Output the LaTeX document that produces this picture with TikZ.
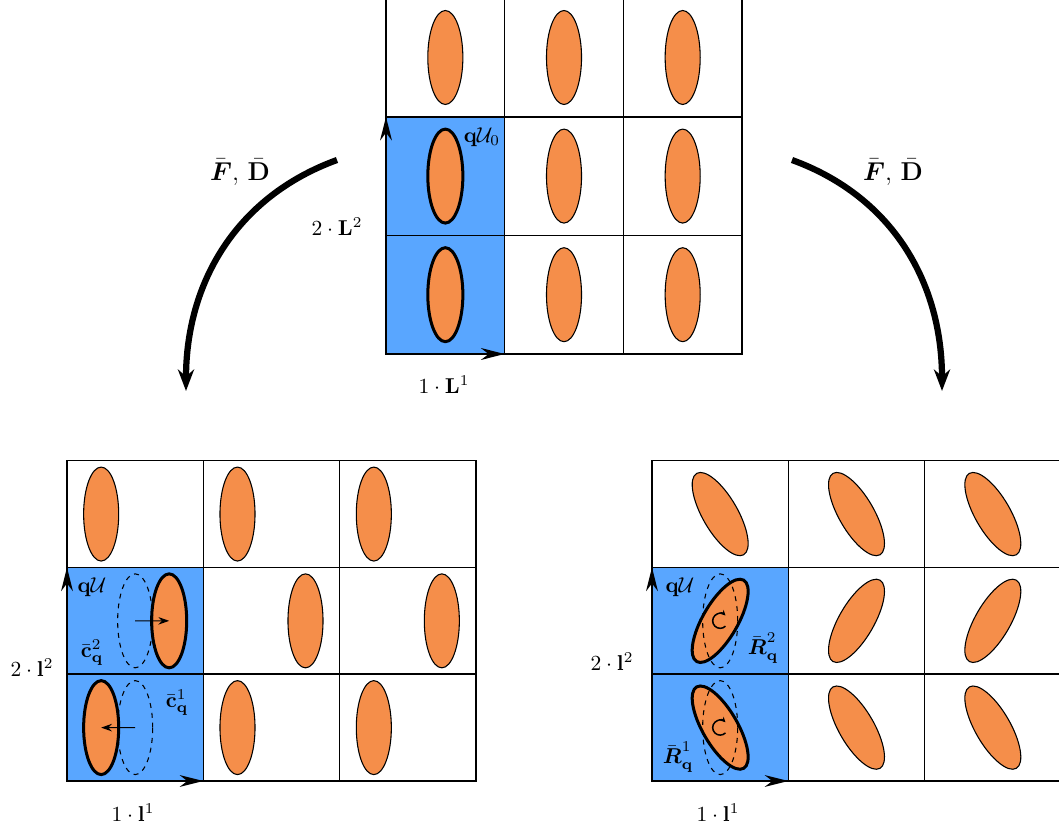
\documentclass[tikz,border=0pt]{standalone}
\usepackage{amsmath}
\usepackage{tikz}
\usetikzlibrary{arrows.meta,positioning,shapes.geometric}
\definecolor{cellblue}{RGB}{89,166,255}
\definecolor{ellorange}{RGB}{245,142,74}

\begin{document}
\begin{tikzpicture}[
  x=0.465pt, y=0.465pt,
  ell/.style={ellipse, draw, line width=0.5pt, fill=ellorange, minimum width=16.3pt, minimum height=43.7pt, inner sep=0pt},
  cellell/.style={ell, line width=1.4pt},
  ghost/.style={ellipse, draw, dash pattern=on 2.3pt off 2.3pt, line width=0.5pt, minimum width=16.3pt, minimum height=43.7pt, inner sep=0pt},
  cellline/.style={line width=0.7pt},
  axis/.style={line width=1pt, -{Stealth[length=11pt, width=5.5pt]}},
  shiftarr/.style={line width=0.5pt, -{Stealth[length=5pt, width=3.5pt]}},
  spin/.style={line width=0.7pt, -{Stealth[length=2.5pt, width=2.5pt]}},
  mapping/.style={line width=2.9pt, -{Stealth[length=10pt, width=7.5pt]}},
  lab/.style={inner sep=1pt}
]
\useasboundingbox (0,0) rectangle (1059,828);
\clip (0,0) rectangle (1059,828);

% reference configuration
\begin{scope}[shift={(386,474)}]
  \fill[cellblue] (0,0) rectangle (118.67,237.2);
  \foreach \i in {0,1,2}
    \foreach \j in {0,1,2}
      \draw[cellline] (\i*118.67,\j*118.6) rectangle ++(118.67,118.6);
  \foreach \i/\j/\s in {0/0/cellell, 0/1/cellell, 0/2/ell, 1/0/ell, 1/1/ell, 1/2/ell, 2/0/ell, 2/1/ell, 2/2/ell}
    \node[\s] (top-\i\j) at ({(\i+0.5)*118.67},{(\j+0.5)*118.6}) {};
  \coordinate (top-o) at (0,0);
  \coordinate (top-v) at (0,237.2);
  \coordinate (top-h) at (118.67,0);
  \draw[axis] (top-o) -- (top-v);
  \draw[axis] (top-o) -- (top-h);
\end{scope}
\node[lab] (top-cell) at (482,691) {$\mathbf{q}\mathcal{U}_0$};
\node[lab] (top-L2) at (337,601) {$2\cdot\mathbf{L}^2$};
\node[lab] (top-L1) at (444,443) {$1\cdot\mathbf{L}^1$};

% shifted configuration
\begin{scope}[shift={(67,47)}]
  \fill[cellblue] (0,0) rectangle (136.33,213.54);
  \foreach \i in {0,1,2}
    \foreach \j in {0,1,2}
      \draw[cellline] (\i*136.33,\j*106.77) rectangle ++(136.33,106.77);
  \foreach \i/\j/\d/\s in {0/0/-34/cellell, 0/1/34/cellell, 0/2/-34/ell, 1/0/-34/ell, 1/1/34/ell, 1/2/-34/ell, 2/0/-34/ell, 2/1/34/ell, 2/2/-34/ell}
    \node[\s] (sh-\i\j) at ({(\i+0.5)*136.33+\d},{(\j+0.5)*106.77}) {};
  \node[ghost] (sh-g0) at (68.17,53.39) {};
  \node[ghost] (sh-g1) at (68.17,160.16) {};
  \draw[shiftarr] (sh-g0.center) -- (sh-00.center);
  \draw[shiftarr] (sh-g1.center) -- (sh-01.center);
  \coordinate (sh-o) at (0,0);
  \coordinate (sh-v) at (0,213.54);
  \coordinate (sh-h) at (136.33,0);
  \draw[axis] (sh-o) -- (sh-v);
  \draw[axis] (sh-o) -- (sh-h);
\end{scope}
\node[lab] (sh-cell) at (92,241) {$\mathbf{q}\mathcal{U}$};
\node[lab] (sh-c2) at (92,175) {$\bar{\mathbf{c}}^2_{\mathbf{q}}$};
\node[lab] (sh-c1) at (177,125) {$\bar{\mathbf{c}}^1_{\mathbf{q}}$};
\node[lab] (sh-l2) at (32,160) {$2\cdot\mathbf{l}^2$};
\node[lab] (sh-l1) at (133,15) {$1\cdot\mathbf{l}^1$};

% rotated configuration
\begin{scope}[shift={(652,47)}]
  \fill[cellblue] (0,0) rectangle (136.33,213.54);
  \foreach \i in {0,1,2}
    \foreach \j in {0,1,2}
      \draw[cellline] (\i*136.33,\j*106.77) rectangle ++(136.33,106.77);
  \foreach \i/\j/\a/\s in {0/0/30/cellell, 0/1/-30/cellell, 0/2/30/ell, 1/0/30/ell, 1/1/-30/ell, 1/2/30/ell, 2/0/30/ell, 2/1/-30/ell, 2/2/30/ell}
    \node[\s, rotate=\a] (rot-\i\j) at ({(\i+0.5)*136.33},{(\j+0.5)*106.77}) {};
  \node[ghost] (rot-g0) at (68.17,53.39) {};
  \node[ghost] (rot-g1) at (68.17,160.16) {};
  \draw[spin] (rot-g0.center) ++(315:7.5) arc (315:45:7.5);
  \draw[spin] (rot-g1.center) ++(315:7.5) arc (315:45:7.5);
  \coordinate (rot-o) at (0,0);
  \coordinate (rot-v) at (0,213.54);
  \coordinate (rot-h) at (136.33,0);
  \draw[axis] (rot-o) -- (rot-v);
  \draw[axis] (rot-o) -- (rot-h);
\end{scope}
\node[lab] (rot-cell) at (680,241) {$\mathbf{q}\mathcal{U}$};
\node[lab] (rot-R2) at (763,180) {$\bar{\boldsymbol{R}}^2_{\mathbf{q}}$};
\node[lab] (rot-R1) at (678,71) {$\bar{\boldsymbol{R}}^1_{\mathbf{q}}$};
\node[lab] (rot-l2) at (612,166) {$2\cdot\mathbf{l}^2$};
\node[lab] (rot-l1) at (718,15) {$1\cdot\mathbf{l}^1$};

% mappings
\coordinate (map-ls) at (337,668);
\coordinate (map-le) at (186,437);
\coordinate (map-rs) at (792,668);
\coordinate (map-re) at (942,437);
\draw[mapping] (map-ls) to[out=200, in=90] (map-le);
\draw[mapping] (map-rs) to[out=-20, in=90] (map-re);
\node[lab, font=\large] (map-lt) at (240,656) {$\bar{\boldsymbol{F}},\,\bar{\mathbf{D}}$};
\node[lab, font=\large] (map-rt) at (893,656) {$\bar{\boldsymbol{F}},\,\bar{\mathbf{D}}$};
\end{tikzpicture}
\end{document}
